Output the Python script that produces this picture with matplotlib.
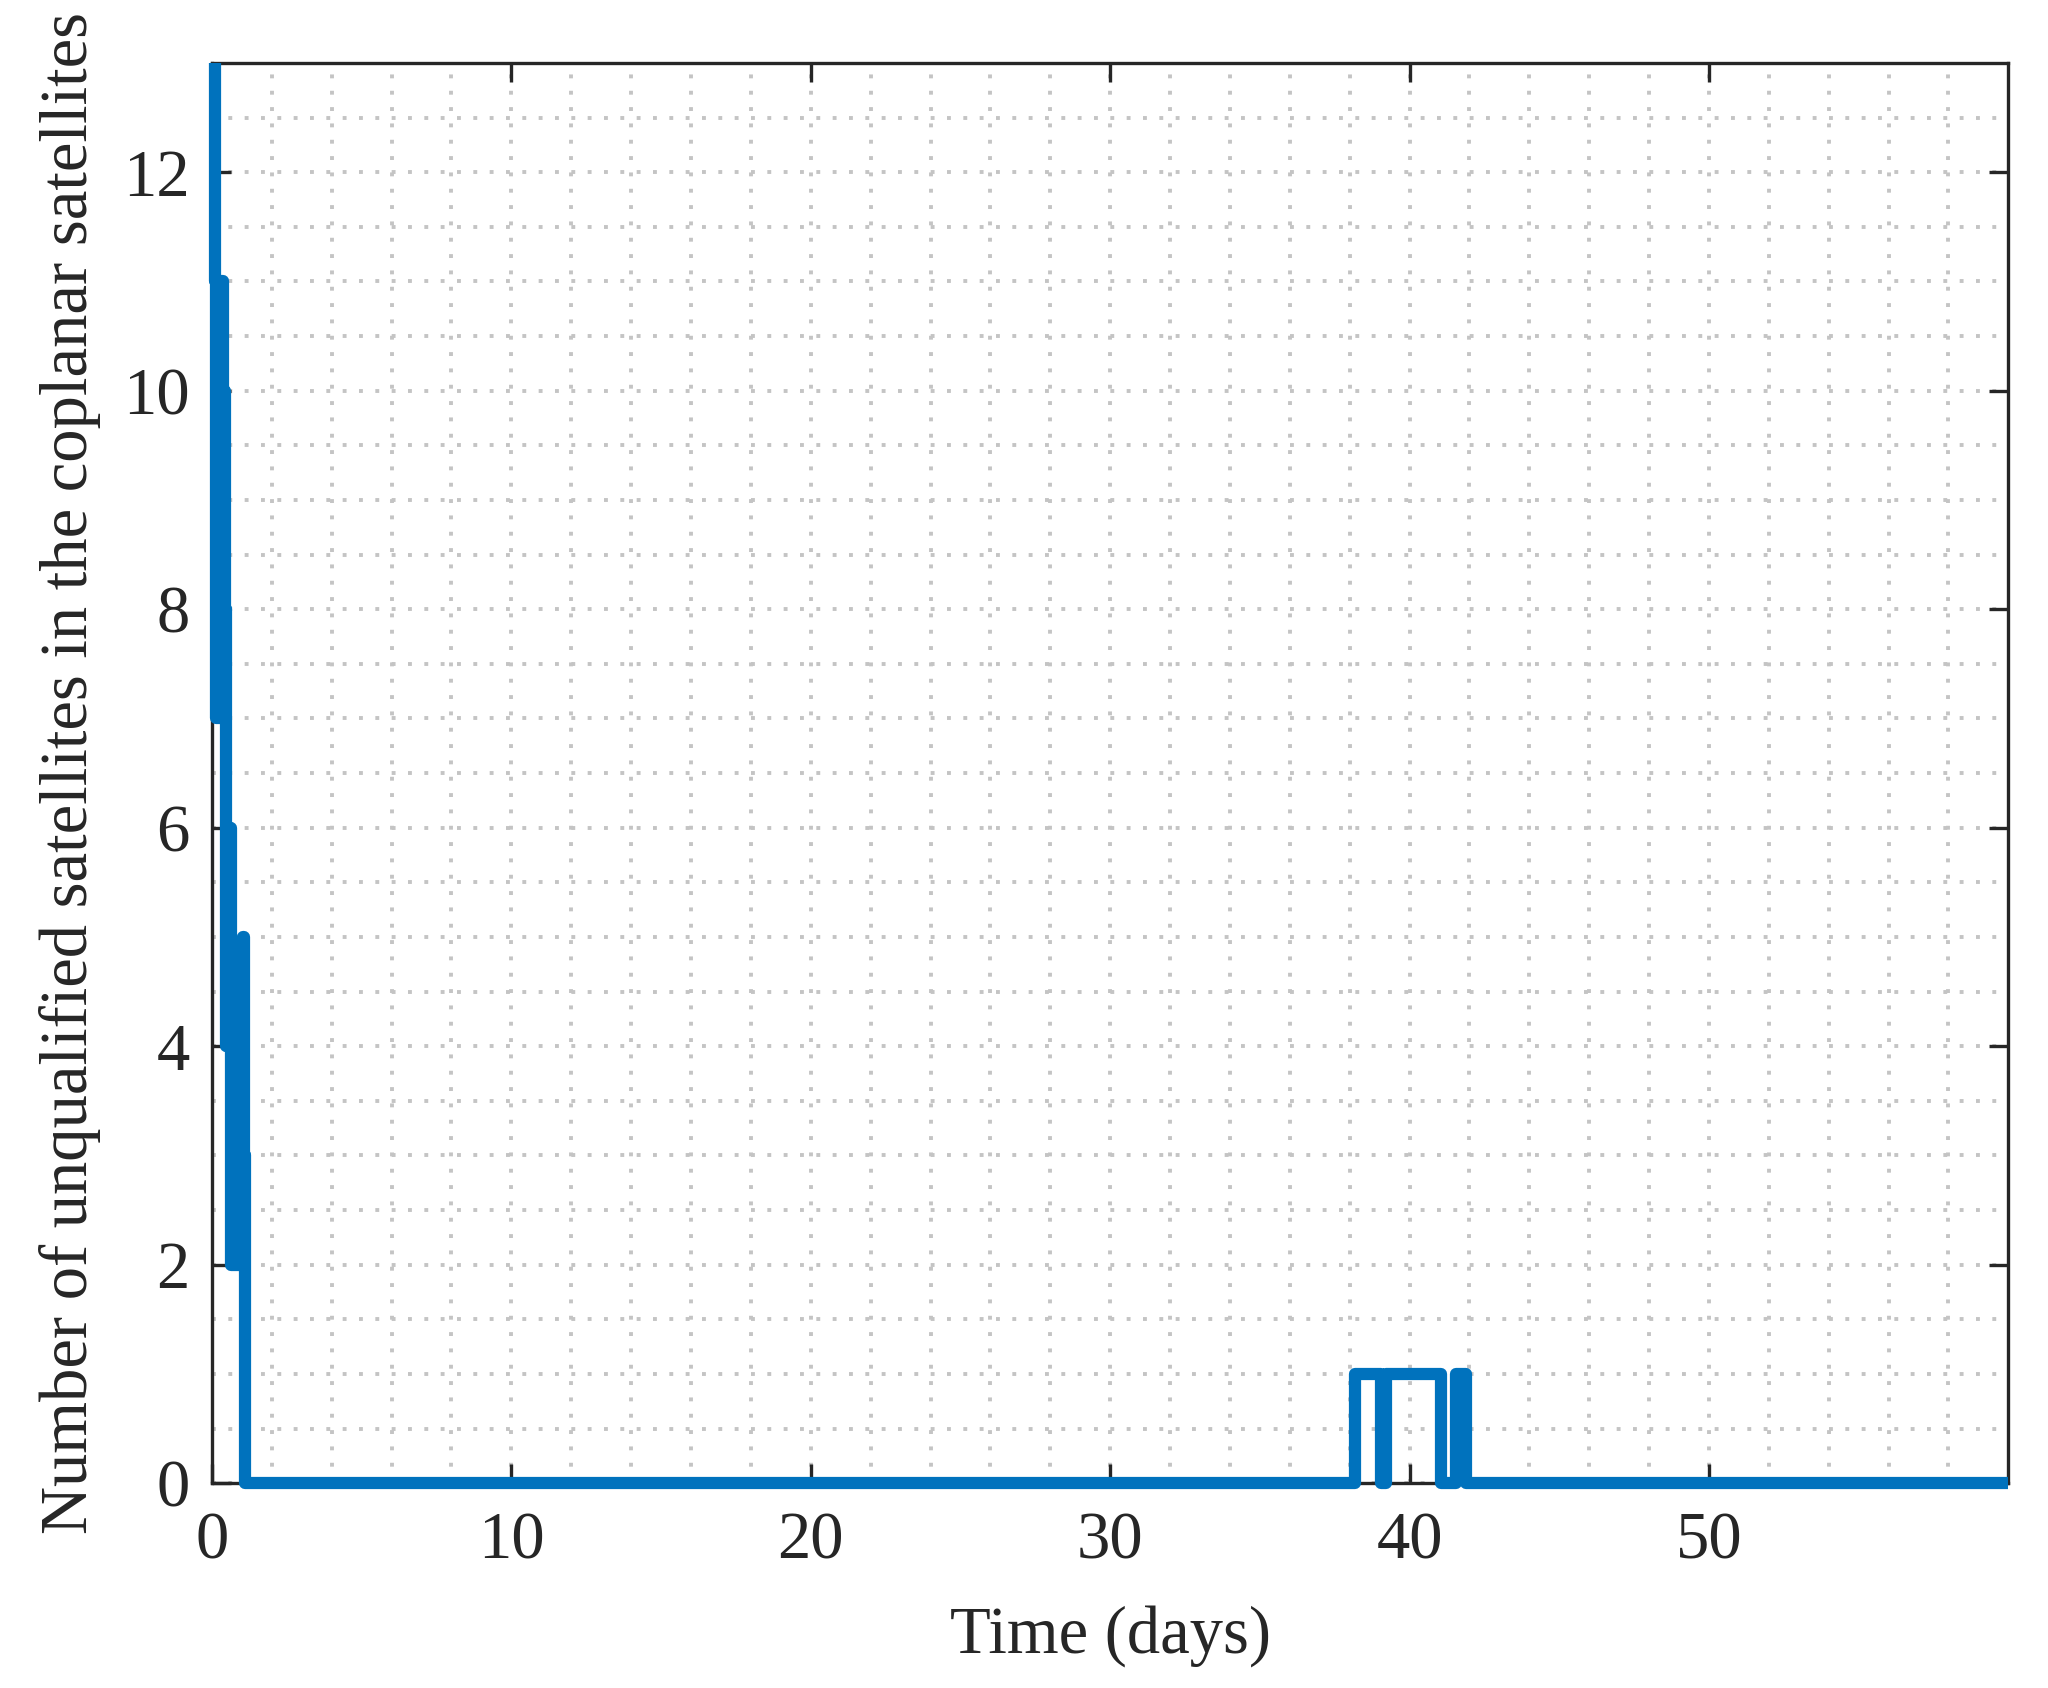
import matplotlib
matplotlib.use("Agg")
import matplotlib.pyplot as plt
from matplotlib.ticker import MultipleLocator

# step series: time of each change (days) and count after it
t_days = [0.09, 0.09, 0.12, 0.31, 0.36, 0.42, 0.47, 0.58, 0.63, 1.03, 1.06, 1.09,
          38.18, 39.03, 39.20, 41.05, 41.55, 41.88, 59.99]
n_unqualified = [13, 11, 7, 11, 10, 8, 4, 6, 2, 5, 3, 0,
                 1, 0, 1, 0, 1, 0, 0]

x_ticks = [0, 10, 20, 30, 40, 50]
y_ticks = [0, 2, 4, 6, 8, 10, 12]

plt.rcParams['font.family'] = ['Liberation Serif', 'DejaVu Serif']
dark = '#262626'

fig = plt.figure(figsize=(10.24, 8.44), dpi=200)
ax = fig.add_axes([0.1035, 0.1213, 0.8770, 0.8414])

ax.step(t_days, n_unqualified, where='post', color='#0072BD', lw=4.4,
        solid_joinstyle='round', solid_capstyle='butt', clip_on=False, zorder=3)

ax.set_xlim(0, 59.99)
ax.set_ylim(0, 13)
ax.set_xticks(x_ticks)
ax.set_yticks(y_ticks)
ax.xaxis.set_minor_locator(MultipleLocator(2))
ax.yaxis.set_minor_locator(MultipleLocator(0.5))

grid_style = dict(color='#c4c4c4', lw=1.4, linestyle=(0, (1.0, 3.2)))
ax.grid(True, which='major', **grid_style)
ax.grid(True, which='minor', **grid_style)
ax.set_axisbelow(True)

for s in ax.spines.values():
    s.set_color(dark)
    s.set_linewidth(1.2)

ax.tick_params(which='major', direction='in', length=6.8, width=1.2, color=dark,
               top=True, right=True, labelsize=24, labelcolor=dark)
ax.tick_params(axis='x', which='major', pad=10)
ax.tick_params(axis='y', which='major', pad=8)
ax.tick_params(which='minor', length=0)

ax.set_xlabel('Time (days)', fontsize=24, color=dark, labelpad=12)
ax.set_ylabel('Number of unqualified satellites in the coplanar satellites',
              fontsize=24, color=dark, labelpad=8)

fig.savefig('out.png', dpi=200)
